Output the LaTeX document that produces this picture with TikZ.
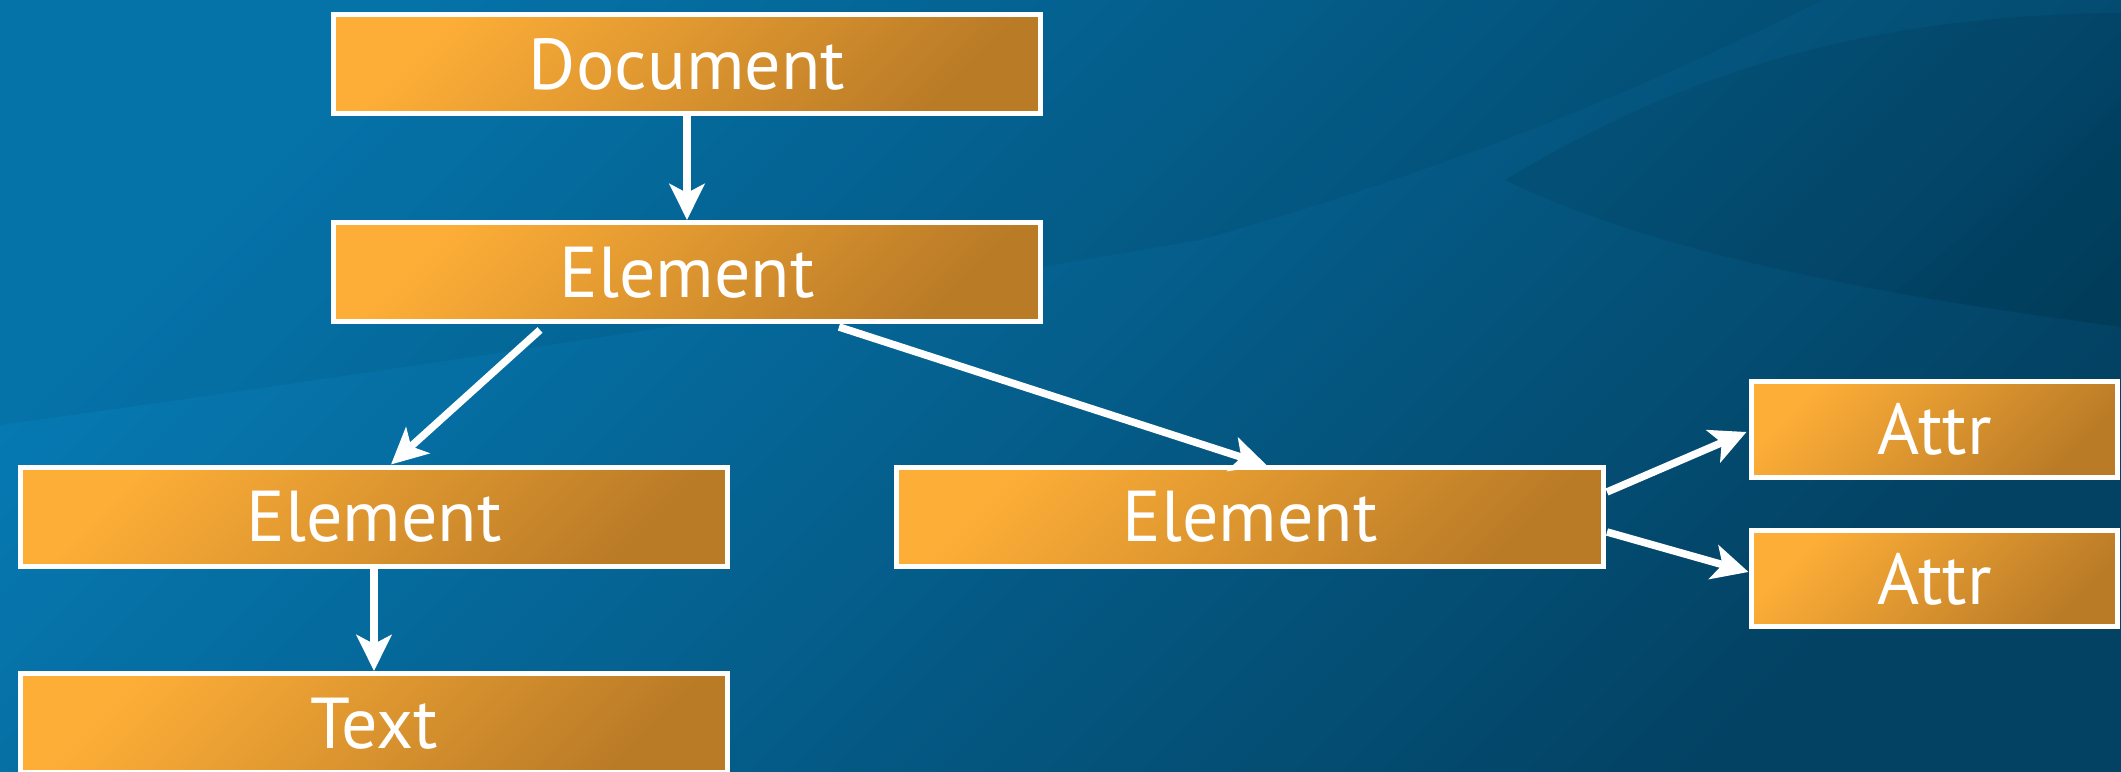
\documentclass[tikz,border=0pt]{standalone}
\usepackage{fontspec}
\setmainfont{PT Sans}
\usetikzlibrary{arrows.meta}
\definecolor{bglight}{HTML}{0679B2}
\definecolor{bgdark}{HTML}{034263}
\definecolor{boxlight}{HTML}{FDAE37}
\definecolor{boxdark}{HTML}{BA7B27}
\tikzset{
  boxnode/.style={draw=white, line width=0.05cm, top color=boxlight, bottom color=boxdark, shading angle=45,
    minimum width=7.07cm, minimum height=0.99cm, inner sep=0pt, outer sep=0pt,
    text=white, font=\fontsize{20.5}{24}\selectfont},
  attrnode/.style={boxnode, minimum width=3.66cm, minimum height=0.96cm},
  conn/.style={draw=white, line width=0.075cm, -{Stealth[length=0.36cm, width=0.35cm, inset=0.09cm]}},
}
\begin{document}
\begin{tikzpicture}
\useasboundingbox (0,0) rectangle (21.21,-7.72);
\clip (0,0) rectangle (21.21,-7.72);
% background
\shade[top color=bglight, bottom color=bgdark, shading angle=45] (0,0) rectangle (21.21,-7.72);
% upper darker region
\fill[black, opacity=0.05] (0,0) -- (0,-4.25) .. controls (4.0,-3.7) and (8.5,-3.0) .. (12.0,-2.40)
   .. controls (14.8,-1.6) and (16.6,-0.8) .. (18.23,0) -- cycle;
% lens region
\fill[black, opacity=0.07] (15.05,-1.80) .. controls (16.8,-0.75) and (18.6,-0.15) .. (21.21,-0.13)
   -- (21.21,-3.27) .. controls (18.8,-2.95) and (16.6,-2.55) .. (15.05,-1.80) -- cycle;
\fill[black, opacity=0.025] (18.93,-2.93) .. controls (19.9,-2.2) and (20.7,-1.4) .. (21.21,-0.97)
   -- (21.21,-3.27) .. controls (20.4,-3.15) and (19.6,-3.05) .. (18.93,-2.93) -- cycle;
% nodes
\node[boxnode] (doc) at (6.87,-0.64) {Document};
\node[boxnode] (e0) at (6.87,-2.725) {Element};
\node[boxnode] (e1) at (3.74,-5.17) {Element};
\node[boxnode] (tx) at (3.74,-7.235) {Text};
\node[boxnode] (e2) at (12.50,-5.17) {Element};
\node[attrnode] (a1) at (19.345,-4.295) {Attr};
\node[attrnode] (a2) at (19.345,-5.79) {Attr};
% connectors
\draw[conn] (doc.south) -- ([yshift=0.03cm]e0.north);
\draw[conn] ([xshift=-1.47cm,yshift=-0.08cm]e0.south) -- ([xshift=0.17cm,yshift=0.03cm]e1.north);
\draw[conn] ([xshift=1.52cm,yshift=-0.05cm]e0.south) -- ([xshift=0.17cm,yshift=0.02cm]e2.north);
\draw[conn] (e1.south) -- ([yshift=0.03cm]tx.north);
\draw[conn] ([xshift=0.035cm,yshift=0.25cm]e2.east) -- ([xshift=-0.05cm,yshift=-0.025cm]a1.west);
\draw[conn] ([xshift=0.035cm,yshift=-0.15cm]e2.east) -- ([xshift=-0.03cm,yshift=0.07cm]a2.west);
\end{tikzpicture}
\end{document}
